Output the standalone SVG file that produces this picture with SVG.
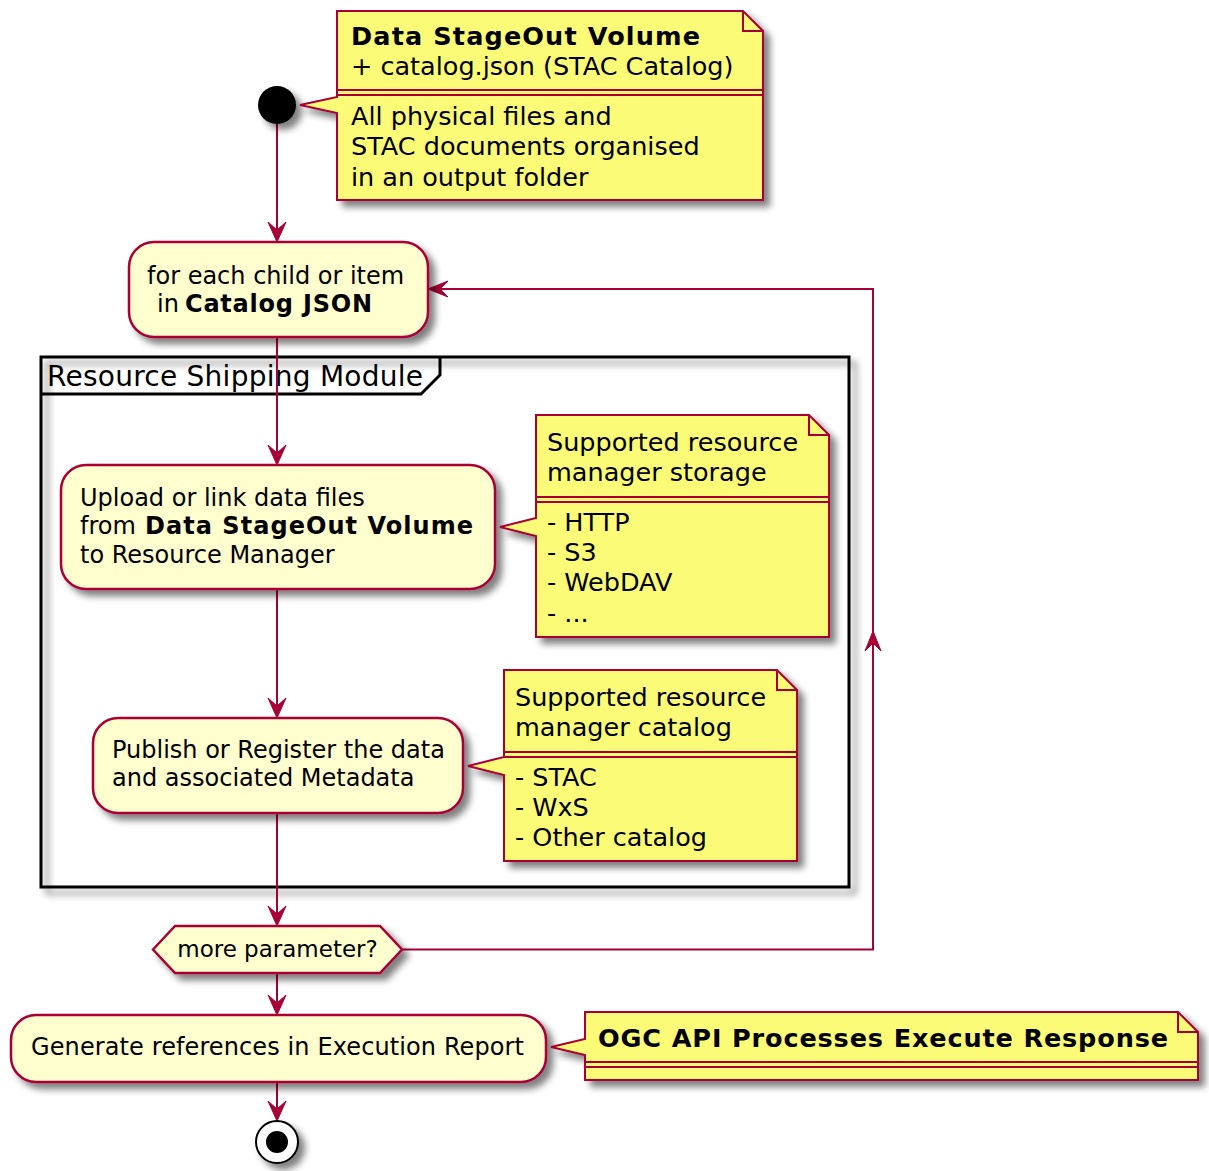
<svg xmlns="http://www.w3.org/2000/svg" width="1209" height="1171" viewBox="0 0 1209 1171">
  <style>
    text { font-family: "DejaVu Sans", "Liberation Sans", sans-serif; fill: #000; }
    .act { fill: #FEFECE; stroke: #A80036; stroke-width: 2.5; filter: url(#shadow); }
    .note { fill: #FBFB77; stroke: #A80036; stroke-width: 2; filter: url(#shadow); }
    .fold { fill: none; stroke: #A80036; stroke-width: 2; }
    .sep { stroke: #A80036; stroke-width: 2; }
    .edge { fill: none; stroke: #A80036; stroke-width: 2; }
    .head { fill: #A80036; stroke: #A80036; stroke-width: 1; }
    .t24 { font-size: 24px; }
    .t26 { font-size: 25.5px; }
    .t22 { font-size: 23px; }
    .b { font-weight: bold; }
  </style>
  <defs>
    <filter id="shadow" x="-20%" y="-20%" width="150%" height="170%">
      <feGaussianBlur in="SourceAlpha" stdDeviation="3.5"/>
      <feOffset dx="6" dy="6"/>
      <feComponentTransfer><feFuncA type="linear" slope="0.5"/></feComponentTransfer>
      <feMerge><feMergeNode/><feMergeNode in="SourceGraphic"/></feMerge>
    </filter>
    <polygon id="arrowDown" class="head" points="-9,-20 0,0 9,-20 0,-12"/>
  </defs>

  <!-- partition frame -->
  <g id="resource-shipping-module">
    <rect x="41" y="357" width="808" height="530" fill="none" stroke="#000" stroke-width="3" filter="url(#shadow)"/>
    <path d="M41,394 H421 L440,375 V357" fill="none" stroke="#000" stroke-width="3"/>
    <text x="47" y="386" font-size="28" textLength="376" lengthAdjust="spacing">Resource Shipping Module</text>
  </g>

  <!-- connectors -->
  <g id="connectors">
    <line class="edge" x1="277" y1="124" x2="277" y2="240"/>
    <use href="#arrowDown" x="277" y="242"/>
    <line class="edge" x1="277" y1="337" x2="277" y2="463"/>
    <use href="#arrowDown" x="277" y="465"/>
    <line class="edge" x1="277" y1="589" x2="277" y2="716"/>
    <use href="#arrowDown" x="277" y="718"/>
    <line class="edge" x1="277" y1="813" x2="277" y2="924"/>
    <use href="#arrowDown" x="277" y="926"/>
    <line class="edge" x1="277" y1="973" x2="277" y2="1013"/>
    <use href="#arrowDown" x="277" y="1015"/>
    <line class="edge" x1="277" y1="1082" x2="277" y2="1119"/>
    <use href="#arrowDown" x="277" y="1121"/>
    <!-- loop back to the iteration start -->
    <polyline class="edge" points="402,949.5 873,949.5 873,289 430,289"/>
    <polygon class="head" points="448,281 428,289 448,297 440,289"/>
    <polygon class="head" points="865,651 873,631 881,651 873,643"/>
  </g>

  <!-- start -->
  <g id="start">
    <circle cx="277" cy="105" r="19" fill="#000" filter="url(#shadow)"/>
  </g>

  <g id="note-stageout">
    <path class="note" d="M337,11 H743 L763,31 V200 H337 V113 L300,105 L337,97 Z"/>
    <path class="fold" d="M743,11 V31 H763"/>
    <line class="sep" x1="337" y1="90" x2="763" y2="90"/>
    <line class="sep" x1="337" y1="95" x2="763" y2="95"/>
    <text class="t26 b" x="351" y="45" textLength="349" lengthAdjust="spacing">Data StageOut Volume</text>
    <text class="t26" x="351" y="75">+ catalog.json (STAC Catalog)</text>
    <text class="t26" x="351" y="125">All physical files and</text>
    <text class="t26" x="351" y="155">STAC documents organised</text>
    <text class="t26" x="351" y="186">in an output folder</text>
  </g>

  <g id="for-each">
    <rect class="act" x="129" y="242" width="299" height="95" rx="25" ry="25"/>
    <text class="t24" x="147" y="284">for each child or item</text>
    <text class="t24" x="157" y="312">in</text>
    <text class="t24 b" x="185" y="312" textLength="187" lengthAdjust="spacing">Catalog JSON</text>
  </g>

  <g id="upload">
    <rect class="act" x="61" y="465" width="434" height="124" rx="25" ry="25"/>
    <text class="t24" x="80" y="506">Upload or link data files</text>
    <text class="t24" x="80" y="534">from</text>
    <text class="t24 b" x="145" y="534" textLength="328" lengthAdjust="spacing">Data StageOut Volume</text>
    <text class="t24" x="80" y="563">to Resource Manager</text>
  </g>

  <g id="note-storage">
    <path class="note" d="M536,415 H809 L829,435 V637 H536 V536 L500,527 L536,518 Z"/>
    <path class="fold" d="M809,415 V435 H829"/>
    <line class="sep" x1="536" y1="497" x2="829" y2="497"/>
    <line class="sep" x1="536" y1="502" x2="829" y2="502"/>
    <text class="t26" x="547" y="451">Supported resource</text>
    <text class="t26" x="547" y="481">manager storage</text>
    <text class="t26" x="547" y="531">- HTTP</text>
    <text class="t26" x="547" y="561">- S3</text>
    <text class="t26" x="547" y="591">- WebDAV</text>
    <text class="t26" x="547" y="622">- ...</text>
  </g>

  <g id="publish">
    <rect class="act" x="93" y="718" width="370" height="95" rx="25" ry="25"/>
    <text class="t24" x="112" y="758">Publish or Register the data</text>
    <text class="t24" x="112" y="786">and associated Metadata</text>
  </g>

  <g id="note-catalog">
    <path class="note" d="M504,670 H777 L797,690 V861 H504 V775 L468,766 L504,757 Z"/>
    <path class="fold" d="M777,670 V690 H797"/>
    <line class="sep" x1="504" y1="752" x2="797" y2="752"/>
    <line class="sep" x1="504" y1="757" x2="797" y2="757"/>
    <text class="t26" x="515" y="706">Supported resource</text>
    <text class="t26" x="515" y="736">manager catalog</text>
    <text class="t26" x="515" y="786">- STAC</text>
    <text class="t26" x="515" y="816">- WxS</text>
    <text class="t26" x="515" y="846">- Other catalog</text>
  </g>

  <g id="more-parameter">
    <polygon class="act" points="153,949.5 175,926 380,926 402,949.5 380,973 175,973"/>
    <text class="t22" x="277.5" y="957" text-anchor="middle">more parameter?</text>
  </g>

  <g id="generate-references">
    <rect class="act" x="11" y="1015" width="535" height="67" rx="25" ry="25"/>
    <text class="t24" x="31" y="1055" textLength="493" lengthAdjust="spacing">Generate references in Execution Report</text>
  </g>

  <g id="note-response">
    <path class="note" d="M585,1012 H1178 L1198,1032 V1080 H585 V1055 L551,1047 L585,1039 Z"/>
    <path class="fold" d="M1178,1012 V1032 H1198"/>
    <line class="sep" x1="585" y1="1062" x2="1198" y2="1062"/>
    <line class="sep" x1="585" y1="1067" x2="1198" y2="1067"/>
    <text class="t26 b" x="598" y="1047" textLength="570" lengthAdjust="spacing">OGC API Processes Execute Response</text>
  </g>

  <g id="stop">
    <circle cx="277" cy="1142" r="21" fill="#fff" stroke="#000" stroke-width="2" filter="url(#shadow)"/>
    <circle cx="277" cy="1142" r="11" fill="#000"/>
  </g>
</svg>
